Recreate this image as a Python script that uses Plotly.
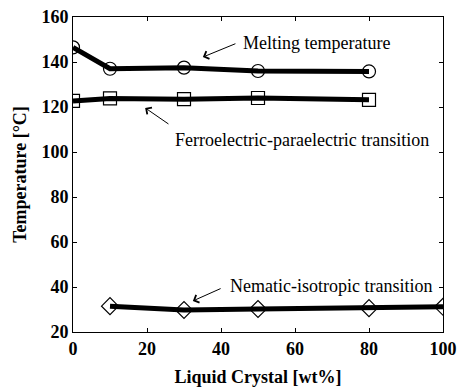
import plotly.graph_objects as go

# Transition temperatures vs liquid-crystal content
x_melt = [0, 10, 30, 50, 80]
t_melt = [146.5, 137.0, 137.5, 136.0, 135.8]

x_ferro = [0, 10, 30, 50, 80]
t_ferro = [122.7, 123.8, 123.5, 124.0, 123.2]

x_nem = [10, 30, 50, 80, 100]
t_nem = [31.5, 29.8, 30.2, 30.6, 31.2]

x_ticks = [0, 20, 40, 60, 80, 100]
y_ticks = [20, 40, 60, 80, 100, 120, 140, 160]

serif = "Liberation Serif, Times New Roman, serif"

fig = go.Figure()

series = [
    (x_melt, t_melt, "circle-open"),
    (x_ferro, t_ferro, "square-open"),
    (x_nem, t_nem, "diamond-open"),
]
for xs, ys, sym in series:
    fig.add_trace(go.Scatter(
        x=xs, y=ys, mode="lines+markers",
        line=dict(color="black", width=5),
        marker=dict(symbol=sym, size=13, color="black", line=dict(width=1.2, color="black")),
        showlegend=False,
    ))

# labels with arrows: (text x, text y, tail x, tail y, head x, head y, text)
labels = [
    (45.4, 148.4, 44.3, 148.4, 35.1, 142.2, "Melting temperature"),
    (27.0, 105.3, 26.2, 112.0, 19.5, 119.6, "Ferroelectric-paraelectric transition"),
    (41.9, 40.4, 40.3, 39.6, 32.4, 33.8, "Nematic-isotropic transition"),
]
for tx, ty, ax, ay, hx, hy, txt in labels:
    fig.add_annotation(x=hx, y=hy, ax=ax, ay=ay, xref="x", yref="y", axref="x", ayref="y",
                       text="", showarrow=True, arrowhead=4, arrowsize=1.6, arrowwidth=1,
                       arrowcolor="black")
    fig.add_annotation(x=tx, y=ty, xref="x", yref="y", text=txt, showarrow=False,
                       xanchor="left", yanchor="middle",
                       font=dict(family=serif, size=18, color="black"))

axis_common = dict(
    showline=True, linecolor="black", linewidth=1, mirror="allticks",
    ticks="inside", ticklen=4, tickcolor="black", tickwidth=1,
    showgrid=False, zeroline=False,
    tickfont=dict(family=serif, size=18, color="black", weight="bold"),
)

fig.update_xaxes(
    range=[0, 100], tickvals=x_ticks, ticktext=[str(v) for v in x_ticks],
    title=dict(text="<b>Liquid Crystal [wt%]</b>", font=dict(family=serif, size=18, color="black"),
               standoff=12),
    **axis_common,
)
fig.update_yaxes(
    range=[20, 160], tickvals=y_ticks, ticktext=[str(v) for v in y_ticks],
    title=dict(text="<b>Temperature [\u00b0C]</b>", font=dict(family=serif, size=18, color="black"),
               standoff=10),
    **axis_common,
)

fig.update_layout(
    width=459, height=392,
    margin=dict(l=73, r=16, t=17, b=60, autoexpand=False),
    paper_bgcolor="white", plot_bgcolor="white",
)

fig.write_html("out.html")
